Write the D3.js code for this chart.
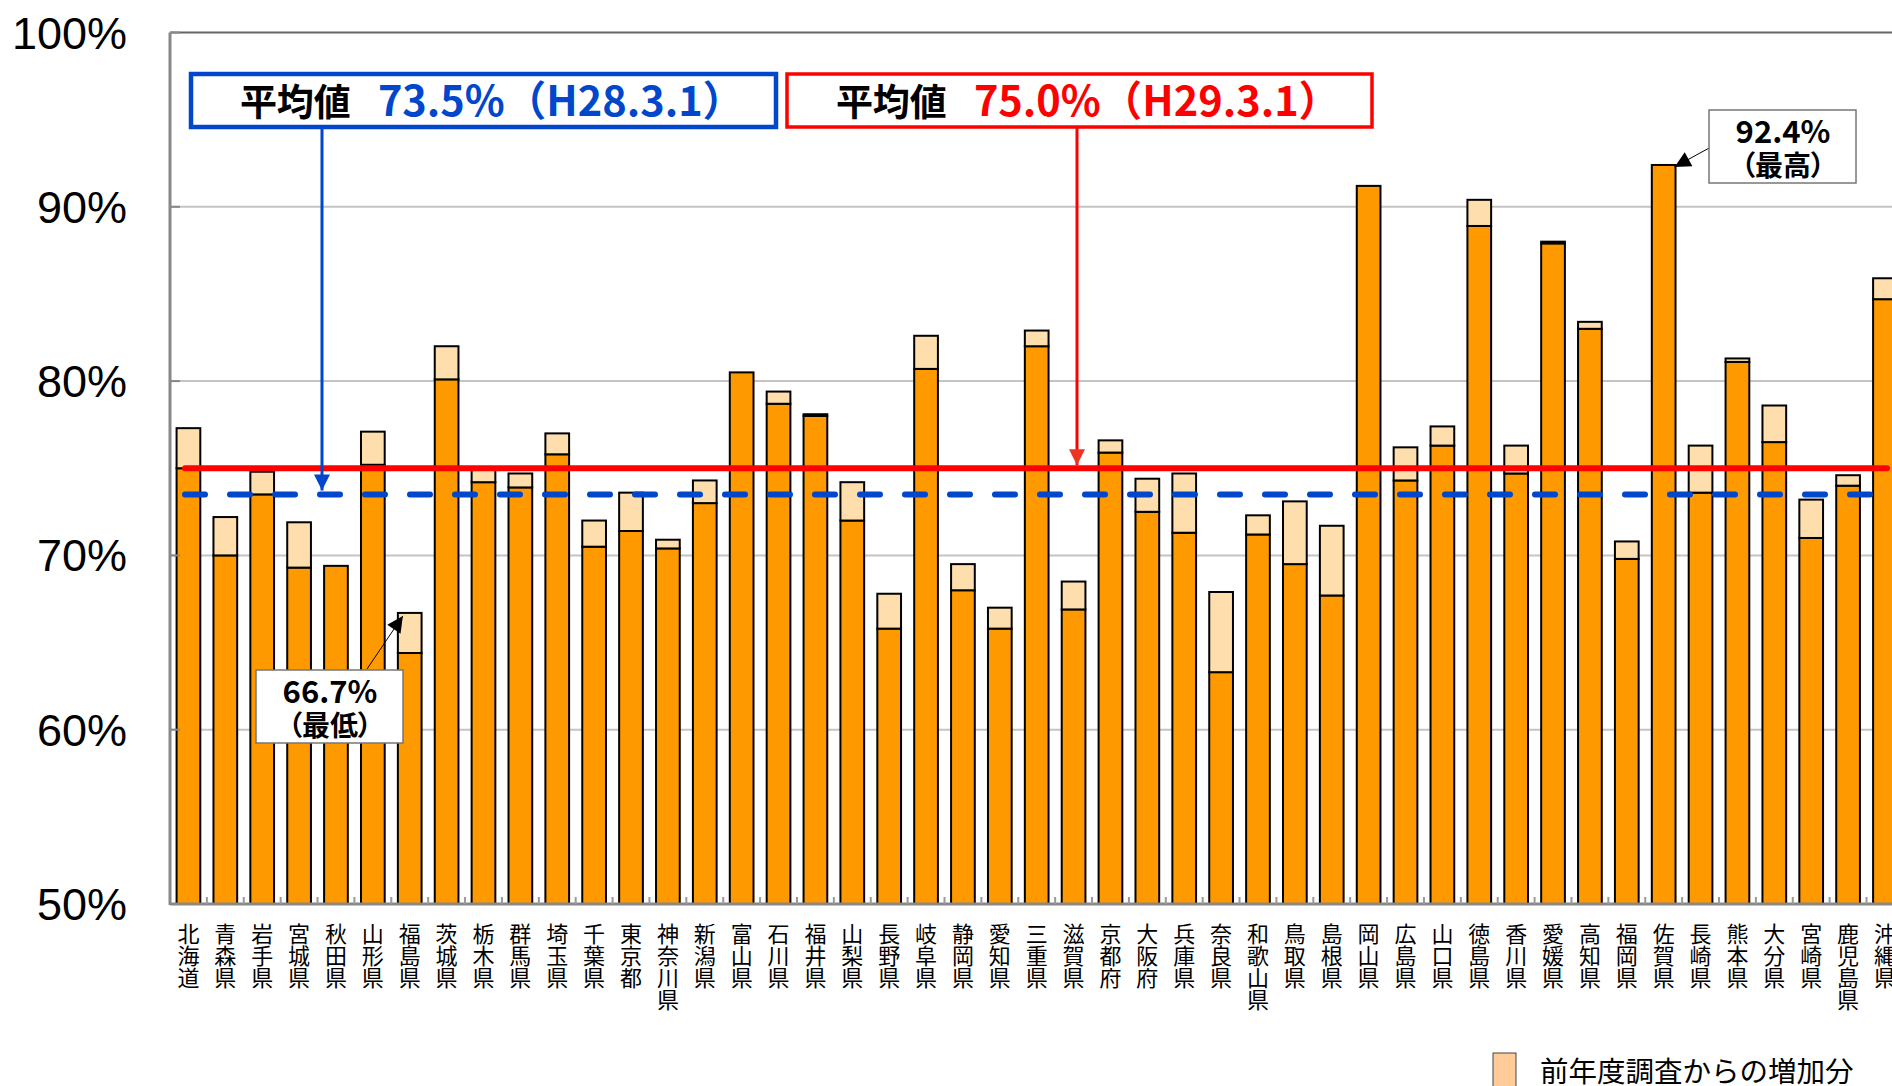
<html>
<head>
<meta charset="utf-8">
<script src="https://cdn.jsdelivr.net/npm/d3@7"></script>
<style>
  body { margin: 0; background: #fff; }
  text { font-family: "Noto Sans CJK JP", "Noto Sans", sans-serif; }
</style>
</head>
<body>
<svg id="chart" width="1892" height="1086"></svg>
<script>
// 都道府県
var prefs = ["北海道","青森県","岩手県","宮城県","秋田県","山形県","福島県","茨城県","栃木県","群馬県",
  "埼玉県","千葉県","東京都","神奈川県","新潟県","富山県","石川県","福井県","山梨県","長野県",
  "岐阜県","静岡県","愛知県","三重県","滋賀県","京都府","大阪府","兵庫県","奈良県","和歌山県",
  "鳥取県","島根県","岡山県","広島県","山口県","徳島県","香川県","愛媛県","高知県","福岡県",
  "佐賀県","長崎県","熊本県","大分県","宮崎県","鹿児島県","沖縄県"];
// H28.3.1 の値（オレンジ部分）
var prev = [75.0,70.0,73.5,69.3,69.4,75.2,64.4,80.1,74.2,73.9,
  75.8,70.5,71.4,70.4,73.0,80.5,78.7,78.0,72.0,65.8,
  80.7,68.0,65.8,82.0,66.9,75.9,72.5,71.3,63.3,71.2,
  69.5,67.7,91.2,74.3,76.3,88.9,74.7,87.9,83.0,69.8,
  92.4,73.6,81.1,76.5,71.0,74.0,84.7];
// H29.3.1 の値（合計の高さ）
var curr = [77.3,72.2,74.8,71.9,69.4,77.1,66.7,82.0,74.9,74.7,
  77.0,72.0,73.6,70.9,74.3,80.5,79.4,78.1,74.2,67.8,
  82.6,69.5,67.0,82.9,68.5,76.6,74.4,74.7,67.9,72.3,
  73.1,71.7,91.2,76.2,77.4,90.4,76.3,88.0,83.4,70.8,
  92.4,76.3,81.3,78.6,73.2,74.6,85.9];
var yTicks = [50, 60, 70, 80, 90, 100];
var avgPrev = 73.5, avgCurr = 75.0;
var legendLabel = "前年度調査からの増加分";

var svg = d3.select("#chart");

var x = d3.scaleBand()
  .domain(prefs)
  .range([170, 1903.4])
  .paddingInner(0.357)
  .paddingOuter(0.1785);

var y = d3.scaleLinear()
  .domain([50, 100])
  .range([904, 32.5]);

var defs = svg.append("defs");
function marker(id, color, w, h) {
  defs.append("marker")
    .attr("id", id)
    .attr("markerUnits", "userSpaceOnUse")
    .attr("viewBox", "0 0 10 10")
    .attr("refX", 10).attr("refY", 5)
    .attr("markerWidth", h).attr("markerHeight", w)
    .attr("orient", "auto")
    .append("path")
    .attr("d", "M0,0L10,5L0,10Z")
    .attr("fill", color);
}
marker("arrBlue", "#0047CC", 16, 20);
marker("arrRed", "#EE3322", 16, 20);
marker("arrBlack", "#000", 16, 20);

// gridlines
svg.append("g").selectAll("line")
  .data(yTicks.filter(function (d) { return d > 50 && d < 100; }))
  .enter().append("line")
  .attr("x1", 170).attr("x2", 1892)
  .attr("y1", function (d) { return y(d); })
  .attr("y2", function (d) { return y(d); })
  .attr("stroke", "#c4c4c4").attr("stroke-width", 2);

// top border
svg.append("line")
  .attr("x1", 170).attr("x2", 1892)
  .attr("y1", y(100)).attr("y2", y(100))
  .attr("stroke", "#666").attr("stroke-width", 2);

// y tick labels
svg.append("g").selectAll("text")
  .data(yTicks)
  .enter().append("text")
  .attr("x", 127)
  .attr("y", function (d) { return y(d) + 16; })
  .attr("text-anchor", "end")
  .style("font-family", "'Liberation Sans', Arial, sans-serif")
  .style("font-size", "45px")
  .attr("fill", "#000")
  .text(function (d) { return d + "%"; });

// bars
var bars = svg.append("g");
bars.selectAll("rect.base")
  .data(prefs)
  .enter().append("rect")
  .attr("class", "base")
  .attr("x", function (d) { return x(d); })
  .attr("width", x.bandwidth())
  .attr("y", function (d, i) { return y(prev[i]); })
  .attr("height", function (d, i) { return y(50) - y(prev[i]); })
  .attr("fill", "#FF9900")
  .attr("stroke", "#000").attr("stroke-width", 2);

bars.selectAll("rect.inc")
  .data(prefs.filter(function (d, i) { return curr[i] > prev[i]; }))
  .enter().append("rect")
  .attr("class", "inc")
  .attr("x", function (d) { return x(d); })
  .attr("width", x.bandwidth())
  .attr("y", function (d) { return y(curr[prefs.indexOf(d)]); })
  .attr("height", function (d) { var i = prefs.indexOf(d); return y(prev[i]) - y(curr[i]); })
  .attr("fill", "#FFDEAD")
  .attr("stroke", "#000").attr("stroke-width", 2);

// axes lines
svg.append("line")
  .attr("x1", 170).attr("x2", 170)
  .attr("y1", y(100)).attr("y2", y(50) + 1)
  .attr("stroke", "#888").attr("stroke-width", 3);
svg.append("line")
  .attr("x1", 170).attr("x2", 1892)
  .attr("y1", y(50)).attr("y2", y(50))
  .attr("stroke", "#888").attr("stroke-width", 3);
svg.append("g").selectAll("line")
  .data(yTicks)
  .enter().append("line")
  .attr("x1", 170).attr("x2", 180)
  .attr("y1", function (d) { return y(d); })
  .attr("y2", function (d) { return y(d); })
  .attr("stroke", "#888").attr("stroke-width", 2);
svg.append("g").selectAll("line")
  .data(prefs.slice(1))
  .enter().append("line")
  .attr("x1", function (d) { return x(d) - x.step() * x.paddingInner() / 2; })
  .attr("x2", function (d) { return x(d) - x.step() * x.paddingInner() / 2; })
  .attr("y1", y(50) - 7).attr("y2", y(50))
  .attr("stroke", "#999").attr("stroke-width", 2);

// x labels (vertical)
var lab = svg.append("g").selectAll("text")
  .data(prefs)
  .enter().append("text")
  .attr("y", 942)
  .attr("text-anchor", "middle")
  .style("font-size", "22px")
  .attr("fill", "#000");
lab.each(function (d) {
  var t = d3.select(this), cx = x(d) + x.bandwidth() / 2;
  d.split("").forEach(function (c, k) {
    t.append("tspan").attr("x", cx).attr("dy", k === 0 ? 0 : 22).text(c);
  });
});

// average lines
svg.append("line")
  .attr("x1", 185).attr("x2", 1887)
  .attr("y1", y(avgPrev)).attr("y2", y(avgPrev))
  .attr("stroke", "#0047CC").attr("stroke-width", 6)
  .attr("stroke-linecap", "round")
  .attr("stroke-dasharray", "20,25");
svg.append("line")
  .attr("x1", 185).attr("x2", 1887)
  .attr("y1", y(avgCurr)).attr("y2", y(avgCurr))
  .attr("stroke", "#FF0000").attr("stroke-width", 6)
  .attr("stroke-linecap", "round");

// average boxes
function avgBox(bx, color, bw, label, ax, ay) {
  svg.append("line")
    .attr("x1", ax).attr("x2", ax)
    .attr("y1", 127).attr("y2", ay)
    .attr("stroke", color).attr("stroke-width", 3)
    .attr("marker-end", "url(#" + (color === "#0047CC" ? "arrBlue" : "arrRed") + ")");
  svg.append("rect")
    .attr("x", bx).attr("y", 74).attr("width", 585).attr("height", 53)
    .attr("fill", "#fff").attr("stroke", color).attr("stroke-width", bw);
  var t = svg.append("text")
    .attr("x", bx + 301).attr("y", 116)
    .attr("text-anchor", "middle")
    .style("font-weight", "bold");
  t.append("tspan").attr("fill", "#000").style("font-size", "37px").text("平均値");
  t.append("tspan").attr("fill", color === "#0047CC" ? "#0047CC" : "#FF0000")
    .style("font-size", "41.5px")
    .attr("dx", 27).text(label);
}
avgBox(191, "#0047CC", 4.5, avgPrev.toFixed(1) + "%（H28.3.1）", 322, y(avgPrev) - 4);
avgBox(787, "#FF0000", 3.5, avgCurr.toFixed(1) + "%（H29.3.1）", 1077, y(avgCurr) - 3);

// min / max annotations
var iMin = d3.minIndex(curr), iMax = d3.maxIndex(curr);
function noteBox(bx, by, val, sub, x1, y1, x2, y2) {
  svg.append("line")
    .attr("x1", x1).attr("y1", y1).attr("x2", x2).attr("y2", y2)
    .attr("stroke", "#000").attr("stroke-width", 1)
    .attr("marker-end", "url(#arrBlack)");
  svg.append("rect")
    .attr("x", bx).attr("y", by).attr("width", 147).attr("height", 73)
    .attr("fill", "#fff").attr("stroke", "#777").attr("stroke-width", 1.5);
  svg.append("text")
    .attr("x", bx + 74).attr("y", by + 33)
    .attr("text-anchor", "middle")
    .style("font-size", "31px").style("font-weight", "bold")
    .text(val.toFixed(1) + "%");
  svg.append("text")
    .attr("x", bx + 74).attr("y", by + 66)
    .attr("text-anchor", "middle")
    .style("font-size", "28px").style("font-weight", "bold")
    .style("font-feature-settings", "'palt'")
    .text(sub);
}
noteBox(256, 670, curr[iMin], "（最低）", 367, 669,
  x(prefs[iMin]) + 5, y(curr[iMin]) + 3);
noteBox(1709, 110, curr[iMax], "（最高）", 1711, 147,
  x(prefs[iMax]) + x.bandwidth() - 1, y(curr[iMax]) + 2);

// legend
svg.append("rect")
  .attr("x", 1493).attr("y", 1053).attr("width", 23).attr("height", 40)
  .attr("fill", "#FFCC99").attr("stroke", "#444").attr("stroke-width", 1);
svg.append("text")
  .attr("x", 1540).attr("y", 1082)
  .style("font-size", "28.5px")
  .attr("fill", "#000")
  .text(legendLabel);
</script>
</body>
</html>
